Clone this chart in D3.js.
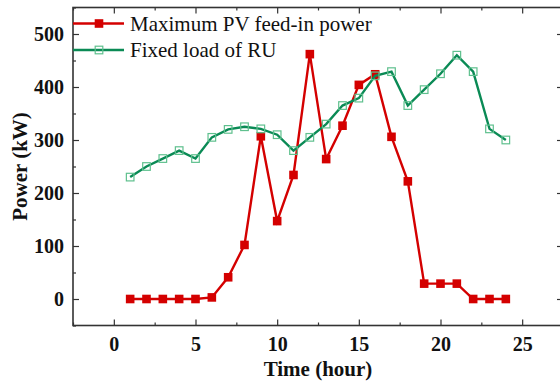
<!DOCTYPE html>
<html><head><meta charset="utf-8">
<script src="https://cdn.jsdelivr.net/npm/d3@7/dist/d3.min.js"></script>
<style>body{margin:0;background:#fff}svg{display:block}</style>
</head><body><svg id="c" width="560" height="385"></svg>
<script>
const hours = [1,2,3,4,5,6,7,8,9,10,11,12,13,14,15,16,17,18,19,20,21,22,23,24];
const pvPower = [0,0,0,0,0,3,41,102,307,147,234,462,264,327,404,424,306,222,29,29,29,0,0,0];
const fixedLoad = [230,250,265,280,265,305,320,325,321,310,280,305,330,365,379,421,429,365,395,425,460,429,321,300];
const xTicks = [0,5,10,15,20,25];
const yTicks = [0,100,200,300,400,500];
const seriesNames = ["Maximum PV feed-in power","Fixed load of RU"];

const svg = d3.select("#c");
const L=73, R=563, T=7.5, B=325.5;
const x = d3.scaleLinear().domain([-2.5,27.5]).range([L,R]);
const y = d3.scaleLinear().domain([-50,550]).range([B,T]);
const axisColor="#333";
const serif="'Liberation Serif','Times New Roman',serif";

// minor ticks
const xMinor = d3.range(-2.5,28,5);
const yMinor = d3.range(-50,551,100);
const g = svg.append("g");
function ticks(axisGen, tr, minorVals, major){
  const a = g.append("g").attr("transform",tr);
  a.call(axisGen.tickValues(minorVals).tickSize(-3).tickFormat(""));
  a.select(".domain").remove();
  a.selectAll("line").attr("stroke",axisColor).attr("stroke-width",1.2);
  const b = g.append("g").attr("transform",tr);
  b.call(major);
  return b;
}
const bx = ticks(d3.axisBottom(x), `translate(0,${B})`, xMinor, d3.axisBottom(x).tickValues(xTicks).tickSize(-6).tickPadding(11));
const tx = ticks(d3.axisTop(x), `translate(0,${T})`, xMinor, d3.axisTop(x).tickValues(xTicks).tickSize(-6).tickFormat(""));
const ly = ticks(d3.axisLeft(y), `translate(${L},0)`, yMinor, d3.axisLeft(y).tickValues(yTicks).tickSize(-6).tickPadding(9));
const ry = ticks(d3.axisRight(y), `translate(${R},0)`, yMinor, d3.axisRight(y).tickValues(yTicks).tickSize(-6).tickFormat(""));
[bx,tx,ly,ry].forEach(a=>{
  a.select(".domain").remove();
  a.selectAll("line").attr("stroke",axisColor).attr("stroke-width",1.2);
  a.selectAll("text").attr("fill","#111").style("font-family",serif).style("font-weight","bold").style("font-size","20px");
});
bx.selectAll("text").attr("dy","0.71em");
// frame
g.append("rect").attr("x",L).attr("y",T).attr("width",R-L).attr("height",B-T)
  .attr("fill","none").attr("stroke",axisColor).attr("stroke-width",1.6);

// lines
const red="#d40000", green="#0a8a55", lightGreen="#5fc08e";
const line = d3.line().x(d=>x(d[0])).y(d=>y(d[1]));
const pvData = hours.map((h,i)=>[h,pvPower[i]]);
const loadData = hours.map((h,i)=>[h,fixedLoad[i]]);
svg.append("path").datum(pvData).attr("d",line).attr("fill","none").attr("stroke",red).attr("stroke-width",2.4);
svg.selectAll(".pv").data(pvData).enter().append("rect")
  .attr("x",d=>x(d[0])-4.3).attr("y",d=>y(d[1])-4.3).attr("width",8.6).attr("height",8.6).attr("fill",red);
svg.append("path").datum(loadData).attr("d",line).attr("fill","none").attr("stroke",green).attr("stroke-width",2.4);
svg.selectAll(".ld").data(loadData).enter().append("rect")
  .attr("x",d=>x(d[0])-3.8).attr("y",d=>y(d[1])-3.8).attr("width",7.6).attr("height",7.6)
  .attr("fill","none").attr("stroke",lightGreen).attr("stroke-width",1.2);

// legend
const lg = svg.append("g");
const legY=[23.5,50];
[[red,true],[green,false]].forEach((s,i)=>{
  lg.append("line").attr("x1",L).attr("x2",124).attr("y1",legY[i]).attr("y2",legY[i]).attr("stroke",s[0]).attr("stroke-width",2.4);
  const r = lg.append("rect").attr("x",99-(s[1]?4.3:3.8)).attr("y",legY[i]-(s[1]?4.3:3.8))
    .attr("width",s[1]?8.6:7.6).attr("height",s[1]?8.6:7.6);
  if(s[1]) r.attr("fill",s[0]); else r.attr("fill","none").attr("stroke",lightGreen).attr("stroke-width",1.2);
  lg.append("text").attr("x",130).attr("y",legY[i]).attr("dy","0.35em").text(seriesNames[i])
    .style("font-family",serif).style("font-size","21px").attr("fill","#111");
});

// axis titles
svg.append("text").attr("x",(L+R)/2-0).attr("x",318).attr("y",376).attr("text-anchor","middle")
  .style("font-family",serif).style("font-weight","bold").style("font-size","21px").attr("fill","#111").text("Time (hour)");
svg.append("text").attr("transform",`translate(27,${(T+B)/2}) rotate(-90)`).attr("text-anchor","middle")
  .style("font-family",serif).style("font-weight","bold").style("font-size","21px").attr("fill","#111").text("Power (kW)");
</script></body></html>
